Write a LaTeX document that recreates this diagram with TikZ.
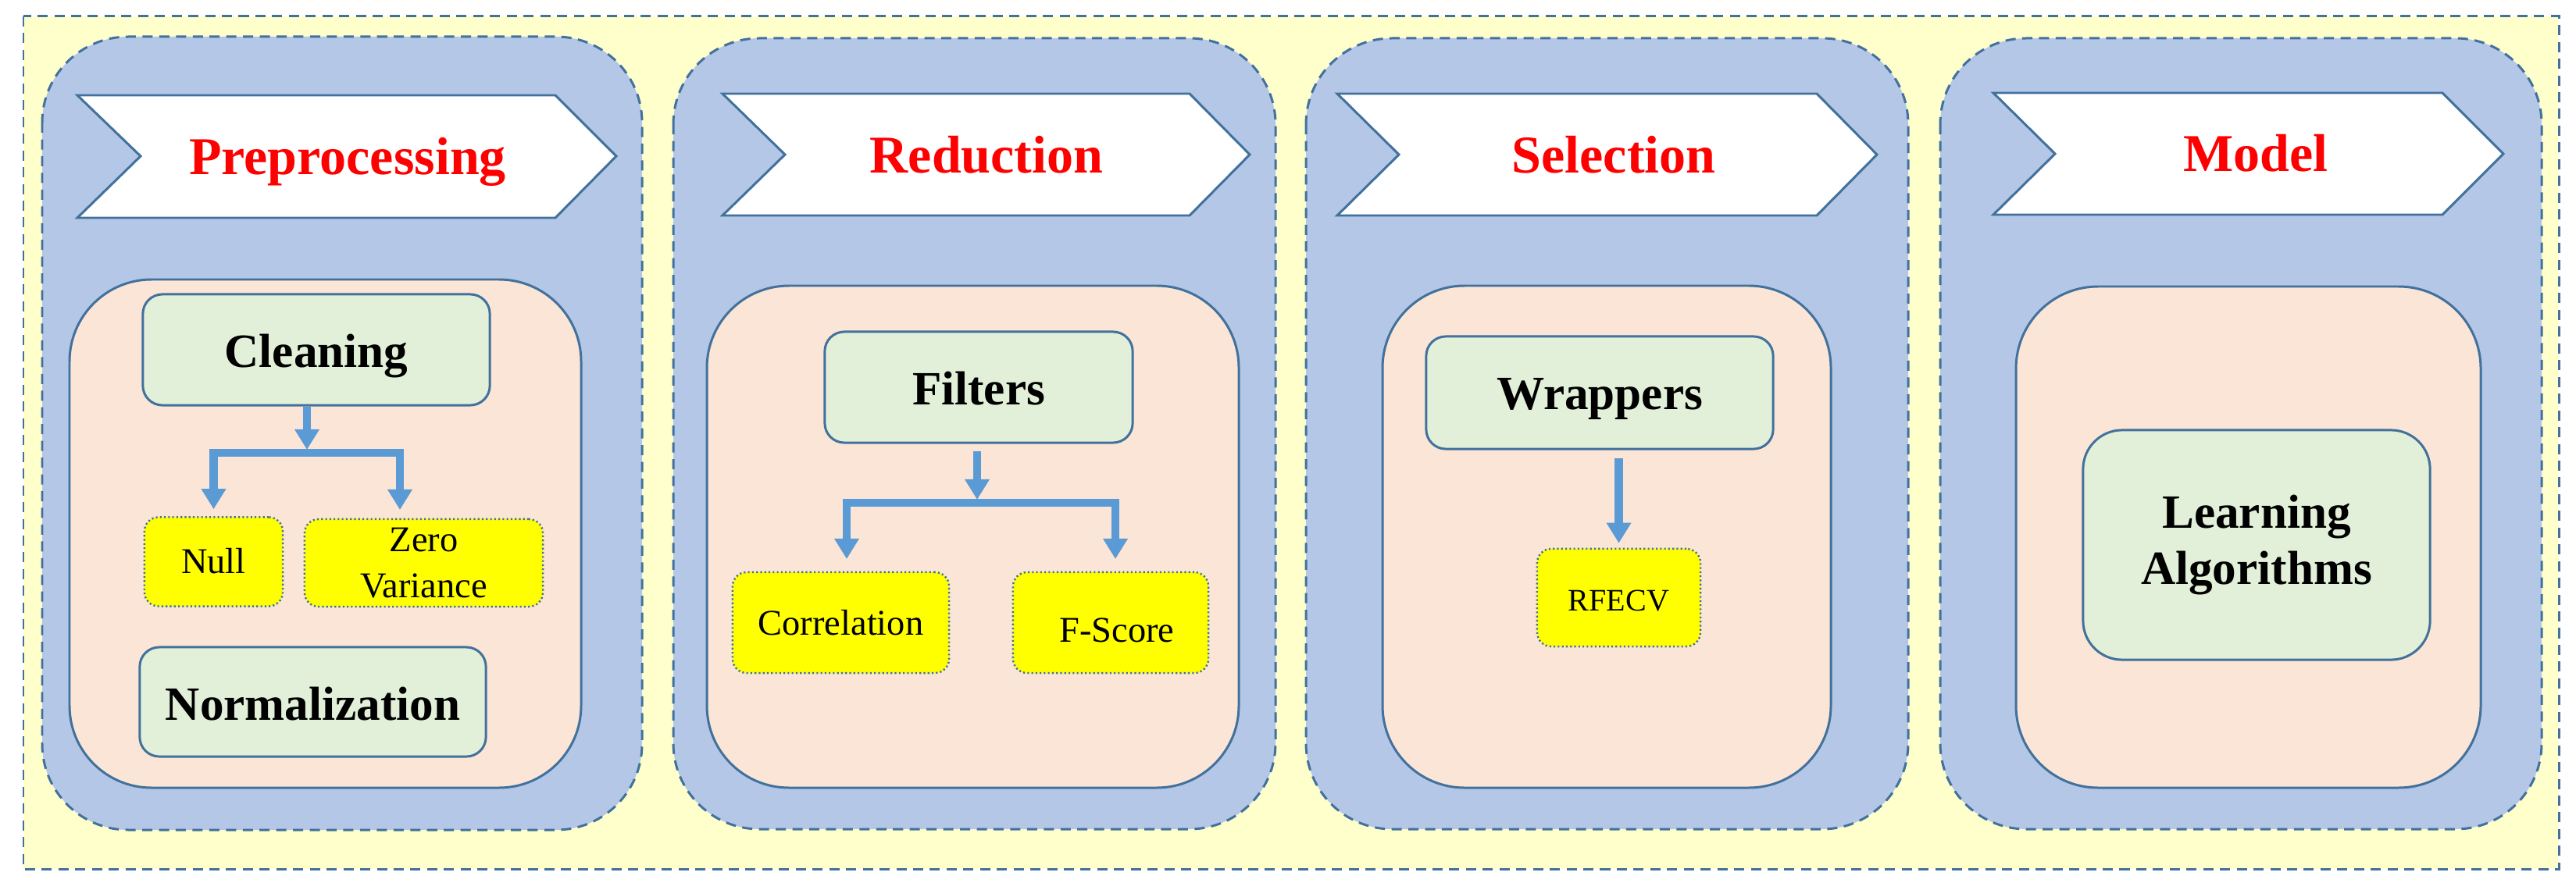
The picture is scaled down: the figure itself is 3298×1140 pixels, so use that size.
\documentclass[tikz,border=0pt]{standalone}
\usepackage{fontspec}
\setmainfont{Liberation Serif}
\usetikzlibrary{arrows.meta}
\definecolor{bgyel}{HTML}{FFFFCC}
\definecolor{panelblue}{HTML}{B4C7E7}
\definecolor{edgeblue}{HTML}{41719C}
\definecolor{pinkf}{HTML}{FBE5D6}
\definecolor{greenf}{HTML}{E2F0D9}
\definecolor{yelf}{HTML}{FFFF00}
\definecolor{arrowblue}{HTML}{5B9BD5}
\definecolor{titlered}{HTML}{FF0000}
\begin{document}
\begin{tikzpicture}[x=0.01cm,y=-0.01cm,
  outerbox/.style={fill=bgyel, draw=edgeblue, line width=0.85pt, dash pattern=on 3.7pt off 2.4pt},
  panel/.style={fill=panelblue, draw=edgeblue, line width=0.85pt, dash pattern=on 3.7pt off 2.4pt, rounded corners=1.1cm},
  innerpanel/.style={fill=pinkf, draw=edgeblue, line width=0.85pt, rounded corners=1.05cm},
  banner/.style={fill=white, draw=edgeblue, line width=0.85pt, line join=miter},
  title/.style={font=\fontsize{19.35}{23}\selectfont\bfseries, text=titlered, anchor=base, inner sep=0pt},
  gbox/.style={rectangle, fill=greenf, draw=edgeblue, line width=0.85pt, rounded corners=0.25cm,
    font=\fontsize{17.4}{20.5}\selectfont\bfseries, align=center, inner sep=0pt},
  gone/.style={text height=0.44cm, text depth=0pt},
  ybox/.style={rectangle, fill=yelf, draw=edgeblue, line width=0.7pt, dash pattern=on 0.6pt off 0.9pt,
    rounded corners=0.18cm, font=\fontsize{13.2}{16.8}\selectfont, align=center, inner sep=0pt},
  arr/.style={draw=arrowblue, line width=3.1pt, -{Triangle[width=0.30cm,length=0.26cm]}}]

\useasboundingbox (0,0) rectangle (3298,1140);
\draw[outerbox] (30,21) rectangle (3276,1113);

% panels
\draw[panel] (54,47) rectangle (822,1063);
\draw[panel] (862,49) rectangle (1633,1062);
\draw[panel] (1672,49) rectangle (2443,1062);
\draw[panel] (2484,49) rectangle (3254,1062);

% banners
\draw[banner] (99,122) -- (711,122) -- (789,200) -- (711,279) -- (99,279) -- (180,200) -- cycle;
\draw[banner] (925,120) -- (1523,120) -- (1600,198) -- (1523,276) -- (925,276) -- (1005,198) -- cycle;
\draw[banner] (1712,120) -- (2326,120) -- (2403,198) -- (2326,276) -- (1712,276) -- (1791,198) -- cycle;
\draw[banner] (2552,119) -- (3127,119) -- (3205,197) -- (3127,275) -- (2552,275) -- (2631,197) -- cycle;

\node[title] (t1) at (445,224) {Preprocessing};
\node[title] (t2) at (1263,222) {Reduction};
\node[title] (t3) at (2066,222) {Selection};
\node[title] (t4) at (2888,220) {Model};

% inner panels
\draw[innerpanel] (89,358) rectangle (744,1009);
\draw[innerpanel] (905,366) rectangle (1586,1009);
\draw[innerpanel] (1770,366) rectangle (2344,1009);
\draw[innerpanel] (2581,367) rectangle (3176,1009);

% panel 1
\node[gbox, gone, minimum width=4.44cm, minimum height=1.42cm] (cleaning) at (405,448) {Cleaning};
\node[ybox, text height=0.30cm, text depth=0pt, minimum width=1.77cm, minimum height=1.14cm] (null) at (273.5,719.5) {Null};
\node[ybox, minimum width=3.05cm, minimum height=1.12cm] (zv) at (542.5,721) {Zero\\Variance};
\node[gbox, text height=0.46cm, text depth=0pt, minimum width=4.43cm, minimum height=1.40cm] (norm) at (400.5,899) {Normalization};
\coordinate (j1) at (393,580);
\coordinate (zvin) at (512,653);
\draw[arr, shorten >=0.04cm] (cleaning.south -| j1) -- (j1);
\draw[arr] (j1) -| ([yshift=0.09cm]null.north);
\draw[arr] (j1) -| (zvin);

% panel 2
\node[gbox, gone, minimum width=3.94cm, minimum height=1.42cm] (filters) at (1253,496) {Filters};
\node[ybox, text height=0.31cm, text depth=0pt, minimum width=2.77cm, minimum height=1.29cm] (corr) at (1076.5,797.5) {Correlation};
\node[ybox, text height=0.49cm, text depth=0pt, minimum width=2.50cm, minimum height=1.29cm] (fscore) at (1422,797.5) {\hspace*{0.16cm}F-Score};
\coordinate (j2) at (1251,644);
\coordinate (corrin) at (1084,716);
\coordinate (fsin) at (1428,716);
\draw[arr, shorten >=0.04cm, shorten <=0.09cm] (filters.south -| j2) -- (j2);
\draw[arr] (j2) -| (corrin);
\draw[arr] (j2) -| (fsin);

% panel 3
\node[gbox, text height=0.42cm, text depth=0pt, minimum width=4.44cm, minimum height=1.44cm] (wrappers) at (2048,503) {Wrappers};
\node[ybox, font=\fontsize{11.4}{14}\selectfont, text height=0.33cm, text depth=0pt, minimum width=2.09cm, minimum height=1.25cm] (rfecv) at (2072.5,765.5) {RFECV};
\draw[arr] ([yshift=-0.1cm]wrappers.south -| rfecv.north) -- ([yshift=0.06cm]rfecv.north);

% panel 4
\node[gbox, rounded corners=0.5cm, minimum width=4.44cm, minimum height=2.94cm] (learn) at (2889,698) {Learning\\Algorithms};

\end{tikzpicture}
\end{document}
